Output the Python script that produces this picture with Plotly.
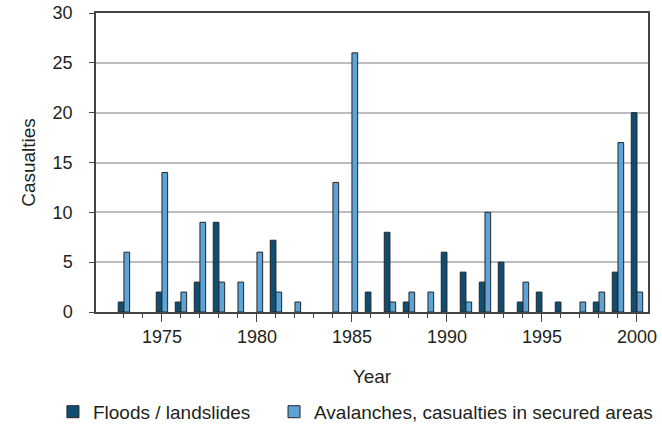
import plotly.graph_objects as go

years = list(range(1973, 2001))
floods = [1, 0, 2, 1, 3, 9, 0, 0, 7.2, 0, 0, 0, 0, 2, 8, 1, 0, 6, 4, 3, 5, 1, 2, 1, 0, 1, 4, 20]
avalanches = [6, 0, 14, 2, 9, 3, 3, 6, 2, 1, 0, 13, 26, 0, 1, 2, 2, 0, 1, 10, 0, 3, 0, 0, 1, 2, 17, 2]
major_ticks = [1975, 1980, 1985, 1990, 1995, 2000]
minor_ticks = [y for y in years if y not in major_ticks]

FONT = "Liberation Sans, Arial, Helvetica, sans-serif"
TXT = "#231f20"
EDGE = "#262626"


def nz(vals):
    return [v if v else None for v in vals]


fig = go.Figure()
fig.add_trace(go.Bar(x=years, y=nz(floods), name="Floods / landslides", legend="legend",
                     marker=dict(color="#0f4e72", line=dict(color=EDGE, width=1))))
fig.add_trace(go.Bar(x=years, y=nz(avalanches), name="Avalanches, casualties in secured areas",
                     legend="legend2",
                     marker=dict(color="#5ca4d8", line=dict(color=EDGE, width=1))))

fig.update_layout(
    width=662, height=425,
    margin=dict(l=96, r=14, t=13, b=113, autoexpand=False),
    paper_bgcolor="white", plot_bgcolor="white",
    barmode="group", bargap=0.4, bargroupgap=0,
    font=dict(family=FONT, size=18, color=TXT),
    showlegend=True,
    legend=dict(orientation="h", xref="paper", x=-0.078, xanchor="left",
                yref="paper", y=-0.334, yanchor="middle",
                font=dict(size=19)),
    legend2=dict(orientation="h", xref="paper", x=0.3225, xanchor="left",
                 yref="paper", y=-0.334, yanchor="middle",
                 font=dict(size=19)),
    xaxis=dict(
        range=[1971.53, 2000.58], automargin=False,
        tickmode="array", tickvals=major_ticks, ticktext=[str(v) for v in major_ticks],
        ticks="outside", ticklen=8, tickwidth=1, tickcolor="#444",
        minor=dict(tickmode="array", tickvals=minor_ticks, ticks="outside", ticklen=4,
                   tickwidth=1, tickcolor="#444", showgrid=False),
        showline=True, linecolor="#444", linewidth=1.5, mirror=True,
        showgrid=False, zeroline=False,
        title=dict(text="Year", standoff=23, font=dict(size=19)),
        tickfont=dict(size=18),
    ),
    yaxis=dict(
        range=[0, 30], automargin=False,
        tickmode="array", tickvals=[0, 5, 10, 15, 20, 25, 30],
        ticks="outside", ticklen=5, tickwidth=1, tickcolor="#444",
        ticklabelstandoff=13,
        showline=True, linecolor="#444", linewidth=1.5, mirror=True,
        showgrid=True, gridcolor="#babec2", gridwidth=1.5, zeroline=False,
        title=dict(text="Casualties", standoff=12, font=dict(size=19)),
        tickfont=dict(size=18),
    ),
)

fig.write_html("out.html", config={"displayModeBar": False},
               post_script="document.body.style.margin='0';")
